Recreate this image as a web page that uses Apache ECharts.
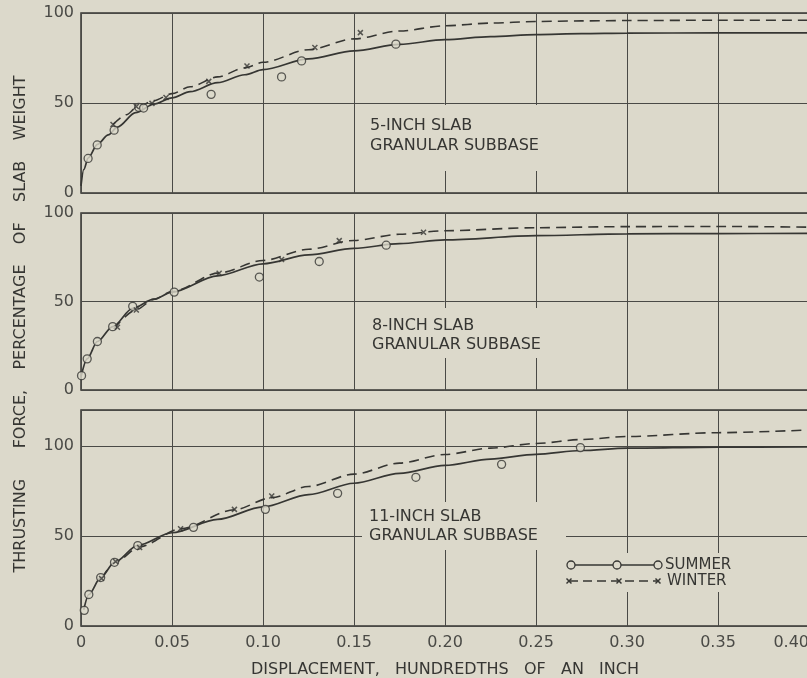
<!DOCTYPE html>
<html>
<head>
<meta charset="utf-8">
<script src="https://cdn.jsdelivr.net/npm/echarts@6/dist/echarts.min.js"></script>
<style>
  html, body { margin: 0; padding: 0; background: #dcd9cb; }
  #chart { width: 807px; height: 678px; }
</style>
</head>
<body>
<div id="chart"></div>
<script>
// Displacement (hundredths of an inch) vs thrusting force (% of slab weight)

// x-axis tick labels
const xTickLabels = ['0', '0.05', '0.10', '0.15', '0.20', '0.25', '0.30', '0.35', '0.40'];
// y-axis tick labels
const yTickLabels = ['0', '50', '100'];

// panel captions
const panelTitles = [
  ['5-INCH SLAB', 'GRANULAR SUBBASE'],
  ['8-INCH SLAB', 'GRANULAR SUBBASE'],
  ['11-INCH SLAB', 'GRANULAR SUBBASE']
];
const legendNames = ['SUMMER', 'WINTER'];
const xTitle = 'DISPLACEMENT,   HUNDREDTHS   OF   AN   INCH';
const yTitle = 'THRUSTING      FORCE,    PERCENTAGE    OF    SLAB    WEIGHT';

// ---- 5-inch slab ----
const slab5SummerPts = [[0.0039,19.2],[0.0089,26.7],[0.0182,34.9],[0.0317,47.6],[0.0344,47.2],[0.0715,54.8],[0.1102,64.5],[0.1212,73.4],[0.173,82.7]];
const slab5WinterPts = [[0.0176,38.1],[0.0304,48.1],[0.039,49.8],[0.0467,53.1],[0.0702,62.0],[0.0912,70.6],[0.1285,80.8],[0.1535,89.1]];
const slab5SummerCurve = [[0,4],[0.0015,13],[0.004,19.5],[0.009,27],[0.015,32.3],[0.02,36.6],[0.03,44.6],[0.04,49.3],[0.05,52.8],[0.06,56.3],[0.075,61.3],[0.09,65.7],[0.10,68.5],[0.125,74.5],[0.15,79],[0.175,82.6],[0.20,85.2],[0.225,86.9],[0.25,88],[0.275,88.5],[0.30,88.8],[0.35,89],[0.40,89]];
const slab5WinterCurve = [[0.0176,38],[0.025,43.5],[0.0304,47.3],[0.04,51.3],[0.05,55.2],[0.06,59],[0.075,64.5],[0.09,69.5],[0.10,72.6],[0.125,79.6],[0.15,85.6],[0.175,90],[0.20,92.9],[0.225,94.4],[0.25,95.3],[0.275,95.6],[0.30,95.8],[0.35,96],[0.40,96]];

// ---- 8-inch slab ----
const slab8SummerPts = [[0.0003,8.1],[0.0034,17.6],[0.009,27.4],[0.0174,35.8],[0.0284,47.3],[0.0512,55.3],[0.098,63.8],[0.1309,72.6],[0.1677,81.8]];
const slab8WinterPts = [[0.020,35.5],[0.0304,45.2],[0.0759,66.0],[0.1102,73.7],[0.1419,84.4],[0.1882,89.1]];
const slab8SummerCurve = [[0,7.5],[0.0034,17.6],[0.009,27.4],[0.0174,35.8],[0.0284,46.2],[0.04,51.3],[0.05,55.3],[0.075,64.5],[0.10,71.3],[0.125,76.3],[0.15,80],[0.175,82.7],[0.20,84.8],[0.25,87.2],[0.30,88.2],[0.35,88.4],[0.40,88.5]];
const slab8WinterCurve = [[0.018,34.5],[0.0304,45.4],[0.04,51.2],[0.05,55.6],[0.0759,66.2],[0.10,73.2],[0.125,79.5],[0.15,84.5],[0.175,88],[0.20,90],[0.25,91.7],[0.30,92.3],[0.35,92.4],[0.40,92]];

// ---- 11-inch slab ----
const slab11SummerPts = [[0.0018,8.7],[0.0043,17.5],[0.0108,26.9],[0.0184,35.4],[0.0312,44.7],[0.0618,54.8],[0.1013,64.8],[0.141,73.7],[0.184,82.6],[0.2311,89.8],[0.2744,99.1]];
const slab11WinterPts = [[0.0113,26.4],[0.019,35.8],[0.0322,43.6],[0.0547,54.0],[0.0843,64.8],[0.1048,72.2]];
const slab11SummerCurve = [[0.0015,9],[0.0043,17.5],[0.0108,26.9],[0.0184,35.4],[0.0312,44.8],[0.05,51.8],[0.075,59.2],[0.10,66.2],[0.125,73],[0.15,79.3],[0.175,84.8],[0.20,89.2],[0.225,92.7],[0.25,95.4],[0.275,97.5],[0.30,98.8],[0.35,99.4],[0.40,99.5]];
const slab11WinterCurve = [[0.0113,26.4],[0.019,35.6],[0.0322,44],[0.0547,54],[0.0843,64.6],[0.1048,71.3],[0.125,77.5],[0.15,84.4],[0.175,90.5],[0.20,95.3],[0.225,98.8],[0.25,101.4],[0.275,103.6],[0.30,105.3],[0.35,107.4],[0.40,108.9]];

const panels = [
  { summerPts: slab5SummerPts, winterPts: slab5WinterPts, summerCurve: slab5SummerCurve, winterCurve: slab5WinterCurve, yMax: 100 },
  { summerPts: slab8SummerPts, winterPts: slab8WinterPts, summerCurve: slab8SummerCurve, winterCurve: slab8WinterCurve, yMax: 100 },
  { summerPts: slab11SummerPts, winterPts: slab11WinterPts, summerCurve: slab11SummerCurve, winterCurve: slab11WinterCurve, yMax: 120 }
];

const BG = '#dcd9cb';
const INK = '#363633';
const GRIDINK = '#4a4a46';
const FONT = '"DejaVu Sans", sans-serif';
const CROSS = 'path://M0,0L10,10M10,0L0,10';
const DASH = [10, 6];

const gridBoxes = [
  { top: 13, height: 180 },
  { top: 213, height: 177 },
  { top: 410, height: 216 }
];

const grids = gridBoxes.map(b => ({
  left: 81, right: -2, top: b.top, height: b.height,
  outerBoundsMode: 'none', containLabel: false,
  show: true, borderColor: INK, borderWidth: 1.5, backgroundColor: 'transparent'
}));

const xAxes = panels.map((p, i) => ({
  type: 'value', gridIndex: i, min: 0, max: 0.40, interval: 0.05,
  axisLine: { show: false }, axisTick: { show: false },
  splitLine: { show: true, lineStyle: { color: GRIDINK, width: 1 } },
  axisLabel: {
    show: i === 2, margin: 9, color: '#4a4a46', fontFamily: FONT, fontSize: 16,
    hideOverlap: false, alignMaxLabel: 'right',
    formatter: v => xTickLabels[Math.round(v / 0.05)] || ''
  },
  name: i === 2 ? xTitle : '', nameLocation: 'middle', nameGap: 36,
  nameTextStyle: { color: INK, fontFamily: FONT, fontSize: 16 }
}));

const yAxes = panels.map((p, i) => ({
  type: 'value', gridIndex: i, min: 0, max: p.yMax, interval: 50,
  axisLine: { show: false }, axisTick: { show: false },
  splitLine: { show: true, lineStyle: { color: GRIDINK, width: 1 } },
  axisLabel: {
    margin: 7, color: '#4a4a46', fontFamily: FONT, fontSize: 16,
    formatter: v => (v % 50 === 0 && yTickLabels[v / 50] !== undefined) ? yTickLabels[v / 50] : ''
  }
}));

const series = [];
panels.forEach((p, i) => {
  const ax = { xAxisIndex: i, yAxisIndex: i };
  series.push({
    type: 'line', ...ax, data: p.summerCurve, smooth: 0.3, smoothMonotone: 'x',
    showSymbol: false, silent: true, z: 3,
    lineStyle: { color: INK, width: 1.7 }
  });
  series.push({
    type: 'line', ...ax, data: p.winterCurve, smooth: 0.3, smoothMonotone: 'x',
    showSymbol: false, silent: true, z: 3,
    lineStyle: { color: INK, width: 1.6, type: DASH }
  });
  series.push({
    type: 'scatter', ...ax, data: p.summerPts, symbol: 'circle', symbolSize: 8, z: 4,
    itemStyle: { color: BG, borderColor: INK, borderWidth: 1.3 }
  });
  series.push({
    type: 'scatter', ...ax, data: p.winterPts, symbol: CROSS, symbolSize: 5, z: 4,
    itemStyle: { color: 'transparent', borderColor: INK, borderWidth: 1.5 }
  });
});

// caption boxes keep the grid lines from running through the lettering
const captionSpots = [
  { box: [360, 105, 205, 66], x: 370, y: [126, 146] },
  { box: [362, 308, 210, 50], x: 372, y: [326, 345] },
  { box: [362, 502, 204, 48], x: 369, y: [517, 536] }
];

const graphic = [];
captionSpots.forEach((c, i) => {
  graphic.push({ type: 'rect', z: 5, shape: { x: c.box[0], y: c.box[1], width: c.box[2], height: c.box[3] }, style: { fill: BG } });
  panelTitles[i].forEach((line, k) => {
    graphic.push({ type: 'text', z: 6, x: c.x, y: c.y[k],
      style: { text: line, fill: INK, font: '16px ' + FONT, textAlign: 'left', textVerticalAlign: 'middle' } });
  });
});

// legend key
graphic.push({ type: 'rect', z: 5, shape: { x: 563, y: 553, width: 180, height: 39 }, style: { fill: BG } });
graphic.push({ type: 'line', z: 6, shape: { x1: 571, y1: 565, x2: 658, y2: 565 }, style: { stroke: INK, lineWidth: 1.5 } });
[571, 617, 658].forEach(cx => {
  graphic.push({ type: 'circle', z: 7, shape: { cx: cx, cy: 565, r: 4 }, style: { fill: BG, stroke: INK, lineWidth: 1.3 } });
});
graphic.push({ type: 'line', z: 6, shape: { x1: 569, y1: 581, x2: 658, y2: 581 }, style: { stroke: INK, lineWidth: 1.5, lineDash: [9, 5] } });
[569, 619, 658].forEach(cx => {
  graphic.push({ type: 'polyline', z: 7, shape: { points: [[cx - 2.5, 578.5], [cx + 2.5, 583.5]] }, style: { stroke: INK, lineWidth: 1.5 } });
  graphic.push({ type: 'polyline', z: 7, shape: { points: [[cx + 2.5, 578.5], [cx - 2.5, 583.5]] }, style: { stroke: INK, lineWidth: 1.5 } });
});
graphic.push({ type: 'text', z: 7, x: 665, y: 565, style: { text: legendNames[0], fill: INK, font: '15px ' + FONT, textVerticalAlign: 'middle' } });
graphic.push({ type: 'text', z: 7, x: 667, y: 581, style: { text: legendNames[1], fill: INK, font: '15px ' + FONT, textVerticalAlign: 'middle' } });

// shared y-axis title
graphic.push({ type: 'text', z: 7, x: 21, y: 324, rotation: Math.PI / 2,
  style: { text: yTitle, fill: INK, font: '16px ' + FONT, textAlign: 'center', textVerticalAlign: 'middle' } });

const chart = echarts.init(document.getElementById('chart'), null, { renderer: 'canvas' });
chart.setOption({
  backgroundColor: BG,
  animation: false,
  grid: grids,
  xAxis: xAxes,
  yAxis: yAxes,
  series: series,
  graphic: graphic
});
</script>
</body>
</html>
